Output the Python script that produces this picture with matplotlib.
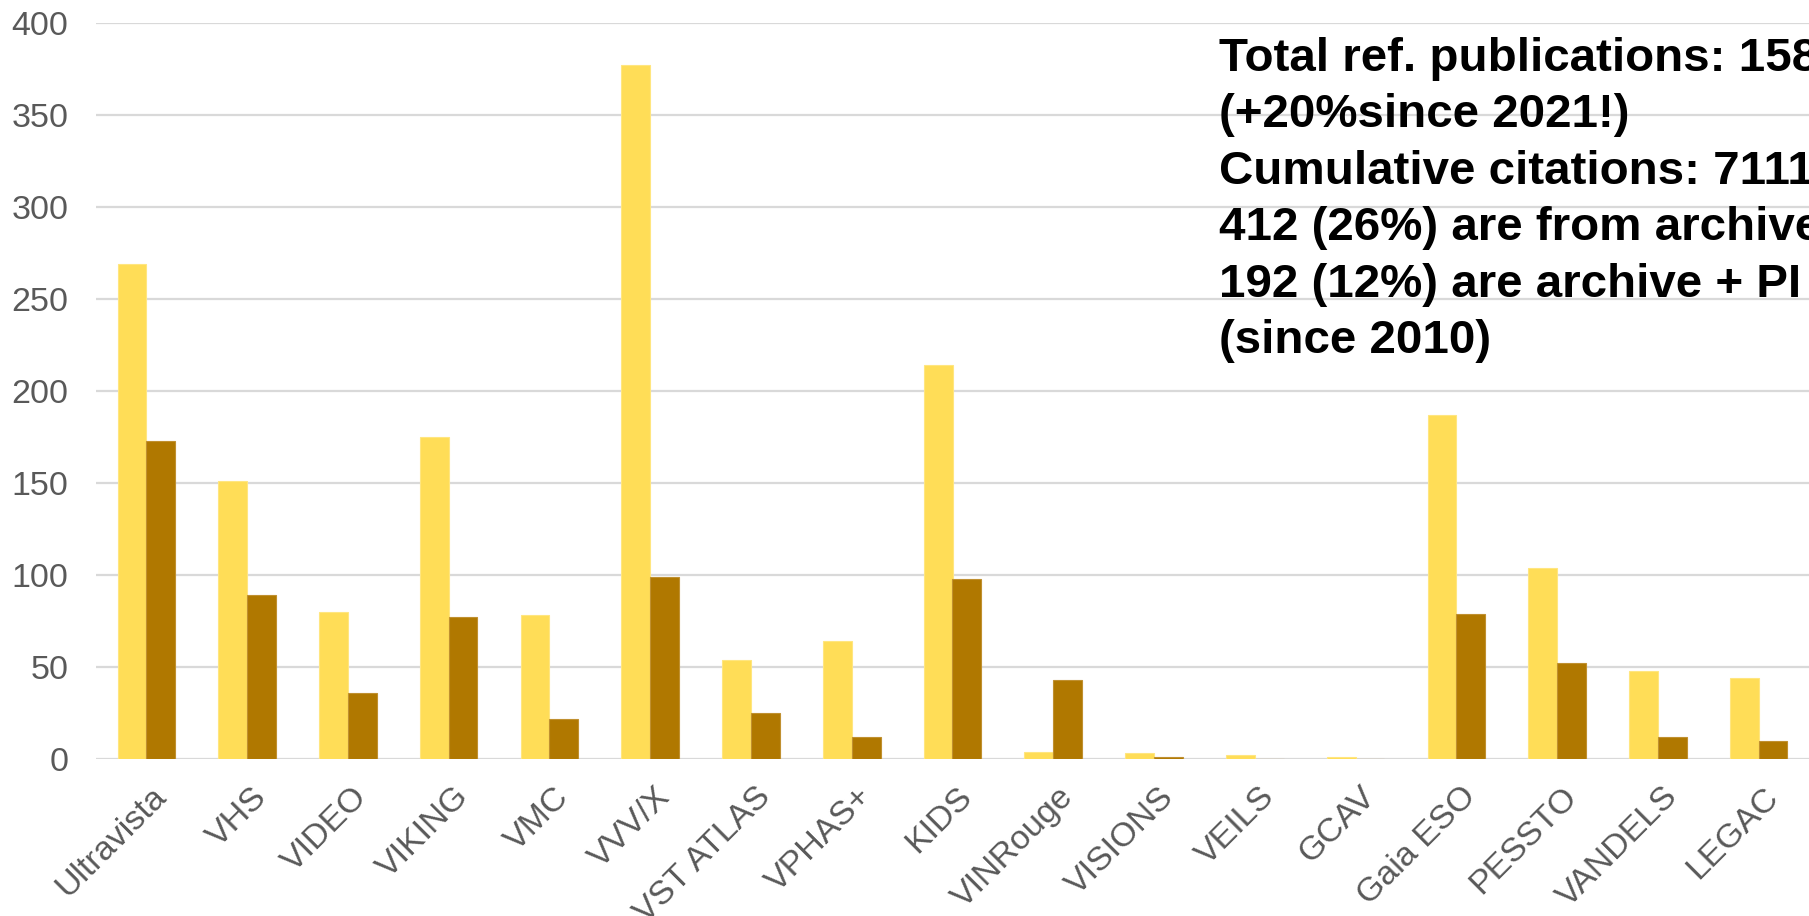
import matplotlib
matplotlib.use("Agg")
import matplotlib.pyplot as plt
import matplotlib.transforms as mtransforms
import numpy as np

surveys = ["Ultravista", "VHS", "VIDEO", "VIKING", "VMC", "VVV/X", "VST ATLAS",
           "VPHAS+", "KIDS", "VINRouge", "VISIONS", "VEILS", "GCAV", "Gaia ESO",
           "PESSTO", "VANDELS", "LEGAC"]
light_vals = [269, 151, 80, 175, 78, 377, 54, 64, 214, 4, 3, 2, 1, 187, 104, 48, 44]
dark_vals = [173, 89, 36, 77, 22, 99, 25, 12, 98, 43, 1, 0, 0, 79, 52, 12, 10]
yticks = [0, 50, 100, 150, 200, 250, 300, 350, 400]
note_lines = ["Total ref. publications: 1585",
              "(+20%since 2021!)",
              "Cumulative citations: 7111",
              "412 (26%) are from archive",
              "192 (12%) are archive + PI",
              "(since 2010)"]

plt.rcParams['font.family'] = ['Liberation Sans', 'DejaVu Sans']

W, H = 1809, 916
fig = plt.figure(figsize=(W / 100, H / 100), dpi=100)
ax = fig.add_axes([96 / W, 1 - 759 / H, 1 - 96 / W, (759 - 23) / H])

x = np.arange(len(surveys))
bw = 0.2857
ax.bar(x - bw / 2, light_vals, bw, color='#FFDD57', edgecolor='#FFE680', linewidth=0.8, zorder=3)
ax.bar(x + bw / 2, dark_vals, bw, color='#B07800', edgecolor='#C09030', linewidth=0.8, zorder=3)

ax.set_xlim(-0.5, len(surveys) - 0.5)
ax.set_ylim(0, 400)
ax.set_yticks(yticks)
ax.yaxis.grid(True, color='#D9D9D9', linewidth=1.6, zorder=0)
ax.set_axisbelow(True)
for s in ax.spines.values():
    s.set_visible(False)
ax.tick_params(axis='both', length=0, labelsize=24.5, labelcolor='#595959')
ax.tick_params(axis='y', pad=20)
ax.set_xticks(x)
ax.set_xticklabels(surveys, rotation=45, ha='right', va='top', rotation_mode='anchor')
ax.tick_params(axis='x', pad=16)
shift = mtransforms.ScaledTranslation(4 / 100, 0, fig.dpi_scale_trans)
for lab in ax.get_xticklabels():
    lab.set_transform(lab.get_transform() + shift)

for i, line in enumerate(note_lines):
    fig.text(1219 / W, 1 - (71 + i * 56.4) / H, line, fontsize=34.2, fontweight='bold',
             color='black', va='baseline', ha='left')

fig.savefig("out.png", dpi=100)
